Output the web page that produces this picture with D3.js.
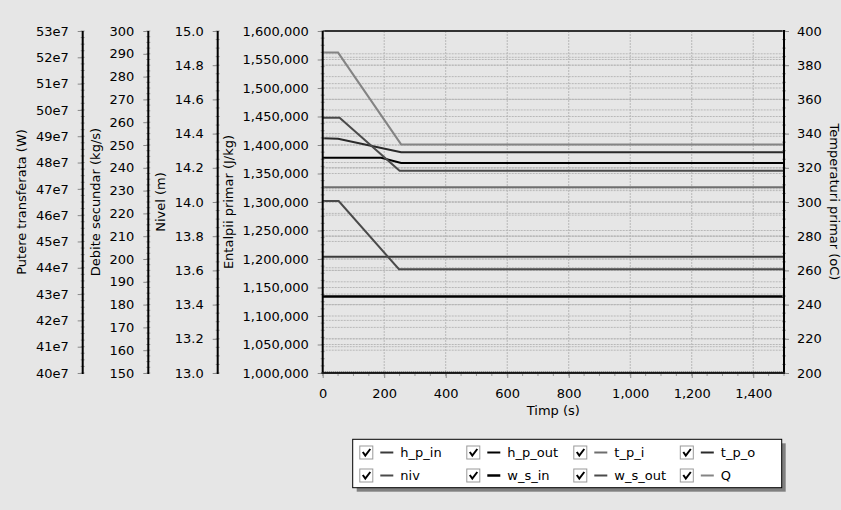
<!DOCTYPE html>
<html>
<head>
<meta charset="utf-8">
<script src="https://cdn.jsdelivr.net/npm/d3@7"></script>
<style>
body { margin: 0; background: #e6e6e6; }
text { font-family: "DejaVu Sans", sans-serif; font-size: 13px; fill: #000; }
</style>
</head>
<body>
<div id="chart"></div>
<script>
// axis ranges and tick values
var timeDomain = [0, 1500];
var timeTicks = [0, 200, 400, 600, 800, 1000, 1200, 1400];
var powerDomain = [40e7, 53e7];
var flowDomain = [150, 300];
var levelDomain = [13.0, 15.0];
var enthalpyDomain = [1000000, 1600000];
var tempDomain = [200, 400];

// series, [time (s), value in own unit]
var h_p_in  = [[0, 1204000], [1500, 1204000]];
var h_p_out = [[0, 1377700], [190, 1377700], [255, 1368500], [1500, 1368500]];
var t_p_i   = [[0, 308.6], [1500, 308.6]];
var t_p_o   = [[0, 337.3], [50, 337.0], [255, 329.1], [1500, 329.1]];
var niv     = [[0, 14.493], [55, 14.493], [250, 14.183], [1500, 14.183]];
var w_s_in  = [[0, 183.6], [1500, 183.6]];
var w_s_out = [[0, 225.4], [52, 225.4], [248, 195.5], [1500, 195.5]];
var Q       = [[0, 52.18e7], [50, 52.18e7], [255, 48.69e7], [1500, 48.69e7]];

var legendNames = ["h_p_in", "h_p_out", "t_p_i", "t_p_o", "niv", "w_s_in", "w_s_out", "Q"];

var W = 841, H = 510;
var plot = {left: 322.7, right: 784, top: 31, bottom: 373};

var svg = d3.select("#chart").append("svg")
    .attr("width", W)
    .attr("height", H);

svg.append("rect").attr("width", W).attr("height", H).attr("fill", "#e6e6e6");

var x = d3.scaleLinear().domain(timeDomain).range([plot.left, plot.right]);
var yPower = d3.scaleLinear().domain(powerDomain).range([plot.bottom, plot.top]);
var yFlow = d3.scaleLinear().domain(flowDomain).range([plot.bottom, plot.top]);
var yLevel = d3.scaleLinear().domain(levelDomain).range([plot.bottom, plot.top]);
var yEnth = d3.scaleLinear().domain(enthalpyDomain).range([plot.bottom, plot.top]);
var yTemp = d3.scaleLinear().domain(tempDomain).range([plot.bottom, plot.top]);

var axes = [
    {scale: yPower, step: 1e7, fmt: function(d) { return Math.round(d / 1e7) + "e7"; }, at: 82.7, title: "Putere transferata (W)", tx: 21.7},
    {scale: yFlow, step: 10, fmt: d3.format("d"), at: 148.3, title: "Debite secundar (kg/s)", tx: 95},
    {scale: yLevel, step: 0.2, fmt: d3.format(".1f"), at: 217.7, title: "Nivel (m)", tx: 160},
    {scale: yEnth, step: 50000, fmt: d3.format(",d"), at: plot.left, title: "Entalpii primar (J/kg)", tx: 228}
];

function ticksOf(scale, step) {
    var d = scale.domain();
    var n = Math.round((d[1] - d[0]) / step);
    return d3.range(n + 1).map(function(i) { return d[0] + i * step; });
}

// grid lines
var grid = svg.append("g");
axes.concat([{scale: yTemp, step: 20}]).forEach(function(a) {
    ticksOf(a.scale, a.step).forEach(function(v) {
        grid.append("line")
            .attr("x1", plot.left).attr("x2", plot.right)
            .attr("y1", a.scale(v)).attr("y2", a.scale(v))
            .attr("stroke", "#b8b8b8").attr("stroke-dasharray", "2,1");
    });
});
timeTicks.slice(1).forEach(function(t) {
    grid.append("line")
        .attr("x1", x(t)).attr("x2", x(t))
        .attr("y1", plot.top).attr("y2", plot.bottom)
        .attr("stroke", "#b8b8b8").attr("stroke-dasharray", "2,1");
});

// series lines
var seriesList = [
    {data: h_p_in, y: yEnth, color: "#3a3a3a", w: 2},
    {data: h_p_out, y: yEnth, color: "#000", w: 2},
    {data: t_p_i, y: yTemp, color: "#6e6e6e", w: 2},
    {data: t_p_o, y: yTemp, color: "#2a2a2a", w: 2},
    {data: niv, y: yLevel, color: "#4a4a4a", w: 2},
    {data: w_s_in, y: yFlow, color: "#000", w: 2.5},
    {data: w_s_out, y: yFlow, color: "#4a4a4a", w: 2},
    {data: Q, y: yPower, color: "#848484", w: 2}
];

seriesList.forEach(function(s) {
    var line = d3.line()
        .x(function(d) { return x(d[0]); })
        .y(function(d) { return s.y(d[1]); });
    svg.append("path")
        .datum(s.data)
        .attr("d", line)
        .attr("fill", "none")
        .attr("stroke", s.color)
        .attr("stroke-width", s.w);
});

// top border
svg.append("line")
    .attr("x1", plot.left).attr("x2", plot.right)
    .attr("y1", plot.top).attr("y2", plot.top)
    .attr("stroke", "#333").attr("stroke-width", 2);

// left axes
axes.forEach(function(a) {
    var g = svg.append("g").attr("transform", "translate(" + a.at + ",0)");
    g.call(d3.axisLeft(a.scale).tickValues(ticksOf(a.scale, a.step)).tickFormat(a.fmt).tickSize(5).tickPadding(9));
    g.select(".domain").remove();
    g.selectAll(".tick line").attr("stroke", "#888");
    g.selectAll(".tick text").style("font-family", "DejaVu Sans").style("font-size", "13px");
    ticksOf(a.scale, a.step / 4).forEach(function(v) {
        g.append("line").attr("x1", -2).attr("x2", 2)
            .attr("y1", a.scale(v)).attr("y2", a.scale(v))
            .attr("stroke", "#999");
    });
    g.append("line").attr("x1", 0).attr("x2", 0)
        .attr("y1", plot.top).attr("y2", plot.bottom + 1)
        .attr("stroke", "#000").attr("stroke-width", 2);
    svg.append("text")
        .attr("transform", "translate(" + a.tx + "," + (plot.top + plot.bottom) / 2 + ") rotate(-90)")
        .attr("text-anchor", "middle")
        .attr("dy", "0.35em")
        .text(a.title);
});

// right axis
var gr = svg.append("g").attr("transform", "translate(" + plot.right + ",0)");
gr.call(d3.axisRight(yTemp).tickValues(ticksOf(yTemp, 20)).tickFormat(d3.format("d")).tickSize(5).tickPadding(8));
gr.select(".domain").remove();
gr.selectAll(".tick line").attr("stroke", "#888");
gr.selectAll(".tick text").style("font-family", "DejaVu Sans").style("font-size", "13px");
ticksOf(yTemp, 5).forEach(function(v) {
    gr.append("line").attr("x1", -2).attr("x2", 2)
        .attr("y1", yTemp(v)).attr("y2", yTemp(v))
        .attr("stroke", "#999");
});
gr.append("line").attr("x1", 0).attr("x2", 0)
    .attr("y1", plot.top - 1).attr("y2", plot.bottom + 1)
    .attr("stroke", "#000").attr("stroke-width", 2);
svg.append("text")
    .attr("transform", "translate(835," + (plot.top + plot.bottom) / 2 + ") rotate(90)")
    .attr("text-anchor", "middle")
    .attr("dy", "0.35em")
    .text("Temperaturi primar (oC)");

// bottom axis
var gx = svg.append("g").attr("transform", "translate(0," + plot.bottom + ")");
gx.call(d3.axisBottom(x).tickValues(timeTicks).tickFormat(d3.format(",d")).tickSize(5).tickPadding(11));
gx.select(".domain").remove();
gx.selectAll(".tick line").attr("stroke", "#888");
gx.selectAll(".tick text").style("font-family", "DejaVu Sans").style("font-size", "13px");
d3.range(0, 1501, 50).forEach(function(t) {
    gx.append("line").attr("x1", x(t)).attr("x2", x(t))
        .attr("y1", 0).attr("y2", 3).attr("stroke", "#999");
});
gx.append("line").attr("x1", plot.left - 1).attr("x2", plot.right + 1)
    .attr("y1", 0).attr("y2", 0)
    .attr("stroke", "#222").attr("stroke-width", 2);
gx.append("line").attr("x1", plot.left).attr("x2", plot.right)
    .attr("y1", -1).attr("y2", -1)
    .attr("stroke", "#000").attr("stroke-width", 1).attr("stroke-dasharray", "1,1");
svg.append("text")
    .attr("x", (plot.left + plot.right) / 2)
    .attr("y", 415)
    .attr("text-anchor", "middle")
    .text("Timp (s)");

// legend
var lg = svg.append("g");
var box = {x: 352.7, y: 439.3, w: 429, h: 48.4};
lg.append("rect").attr("x", box.x + 4).attr("y", box.y + 4)
    .attr("width", box.w).attr("height", box.h).attr("fill", "#808080");
lg.append("rect").attr("x", box.x).attr("y", box.y)
    .attr("width", box.w).attr("height", box.h)
    .attr("fill", "#fff").attr("stroke", "#000");

var colX = [359.3, 466.3, 573.3, 679.8];
var rowY = [452.5, 475.5];
legendNames.forEach(function(name, i) {
    var cx = colX[i % 4], cy = rowY[Math.floor(i / 4)];
    var s = seriesList[i];
    lg.append("rect").attr("x", cx + 0.5).attr("y", cy - 6.5)
        .attr("width", 13).attr("height", 13)
        .attr("fill", "#fff").attr("stroke", "#999");
    lg.append("path")
        .attr("d", "M" + (cx + 3.5) + "," + (cy - 0.5) + " L" + (cx + 6) + "," + (cy + 3) + " L" + (cx + 11) + "," + (cy - 3.5))
        .attr("fill", "none").attr("stroke", "#000").attr("stroke-width", 2);
    lg.append("line").attr("x1", cx + 21).attr("x2", cx + 34)
        .attr("y1", cy).attr("y2", cy)
        .attr("stroke", s.color).attr("stroke-width", s.w);
    lg.append("text").attr("x", cx + 41).attr("y", cy).attr("dy", "0.35em").text(name);
});
</script>
</body>
</html>
